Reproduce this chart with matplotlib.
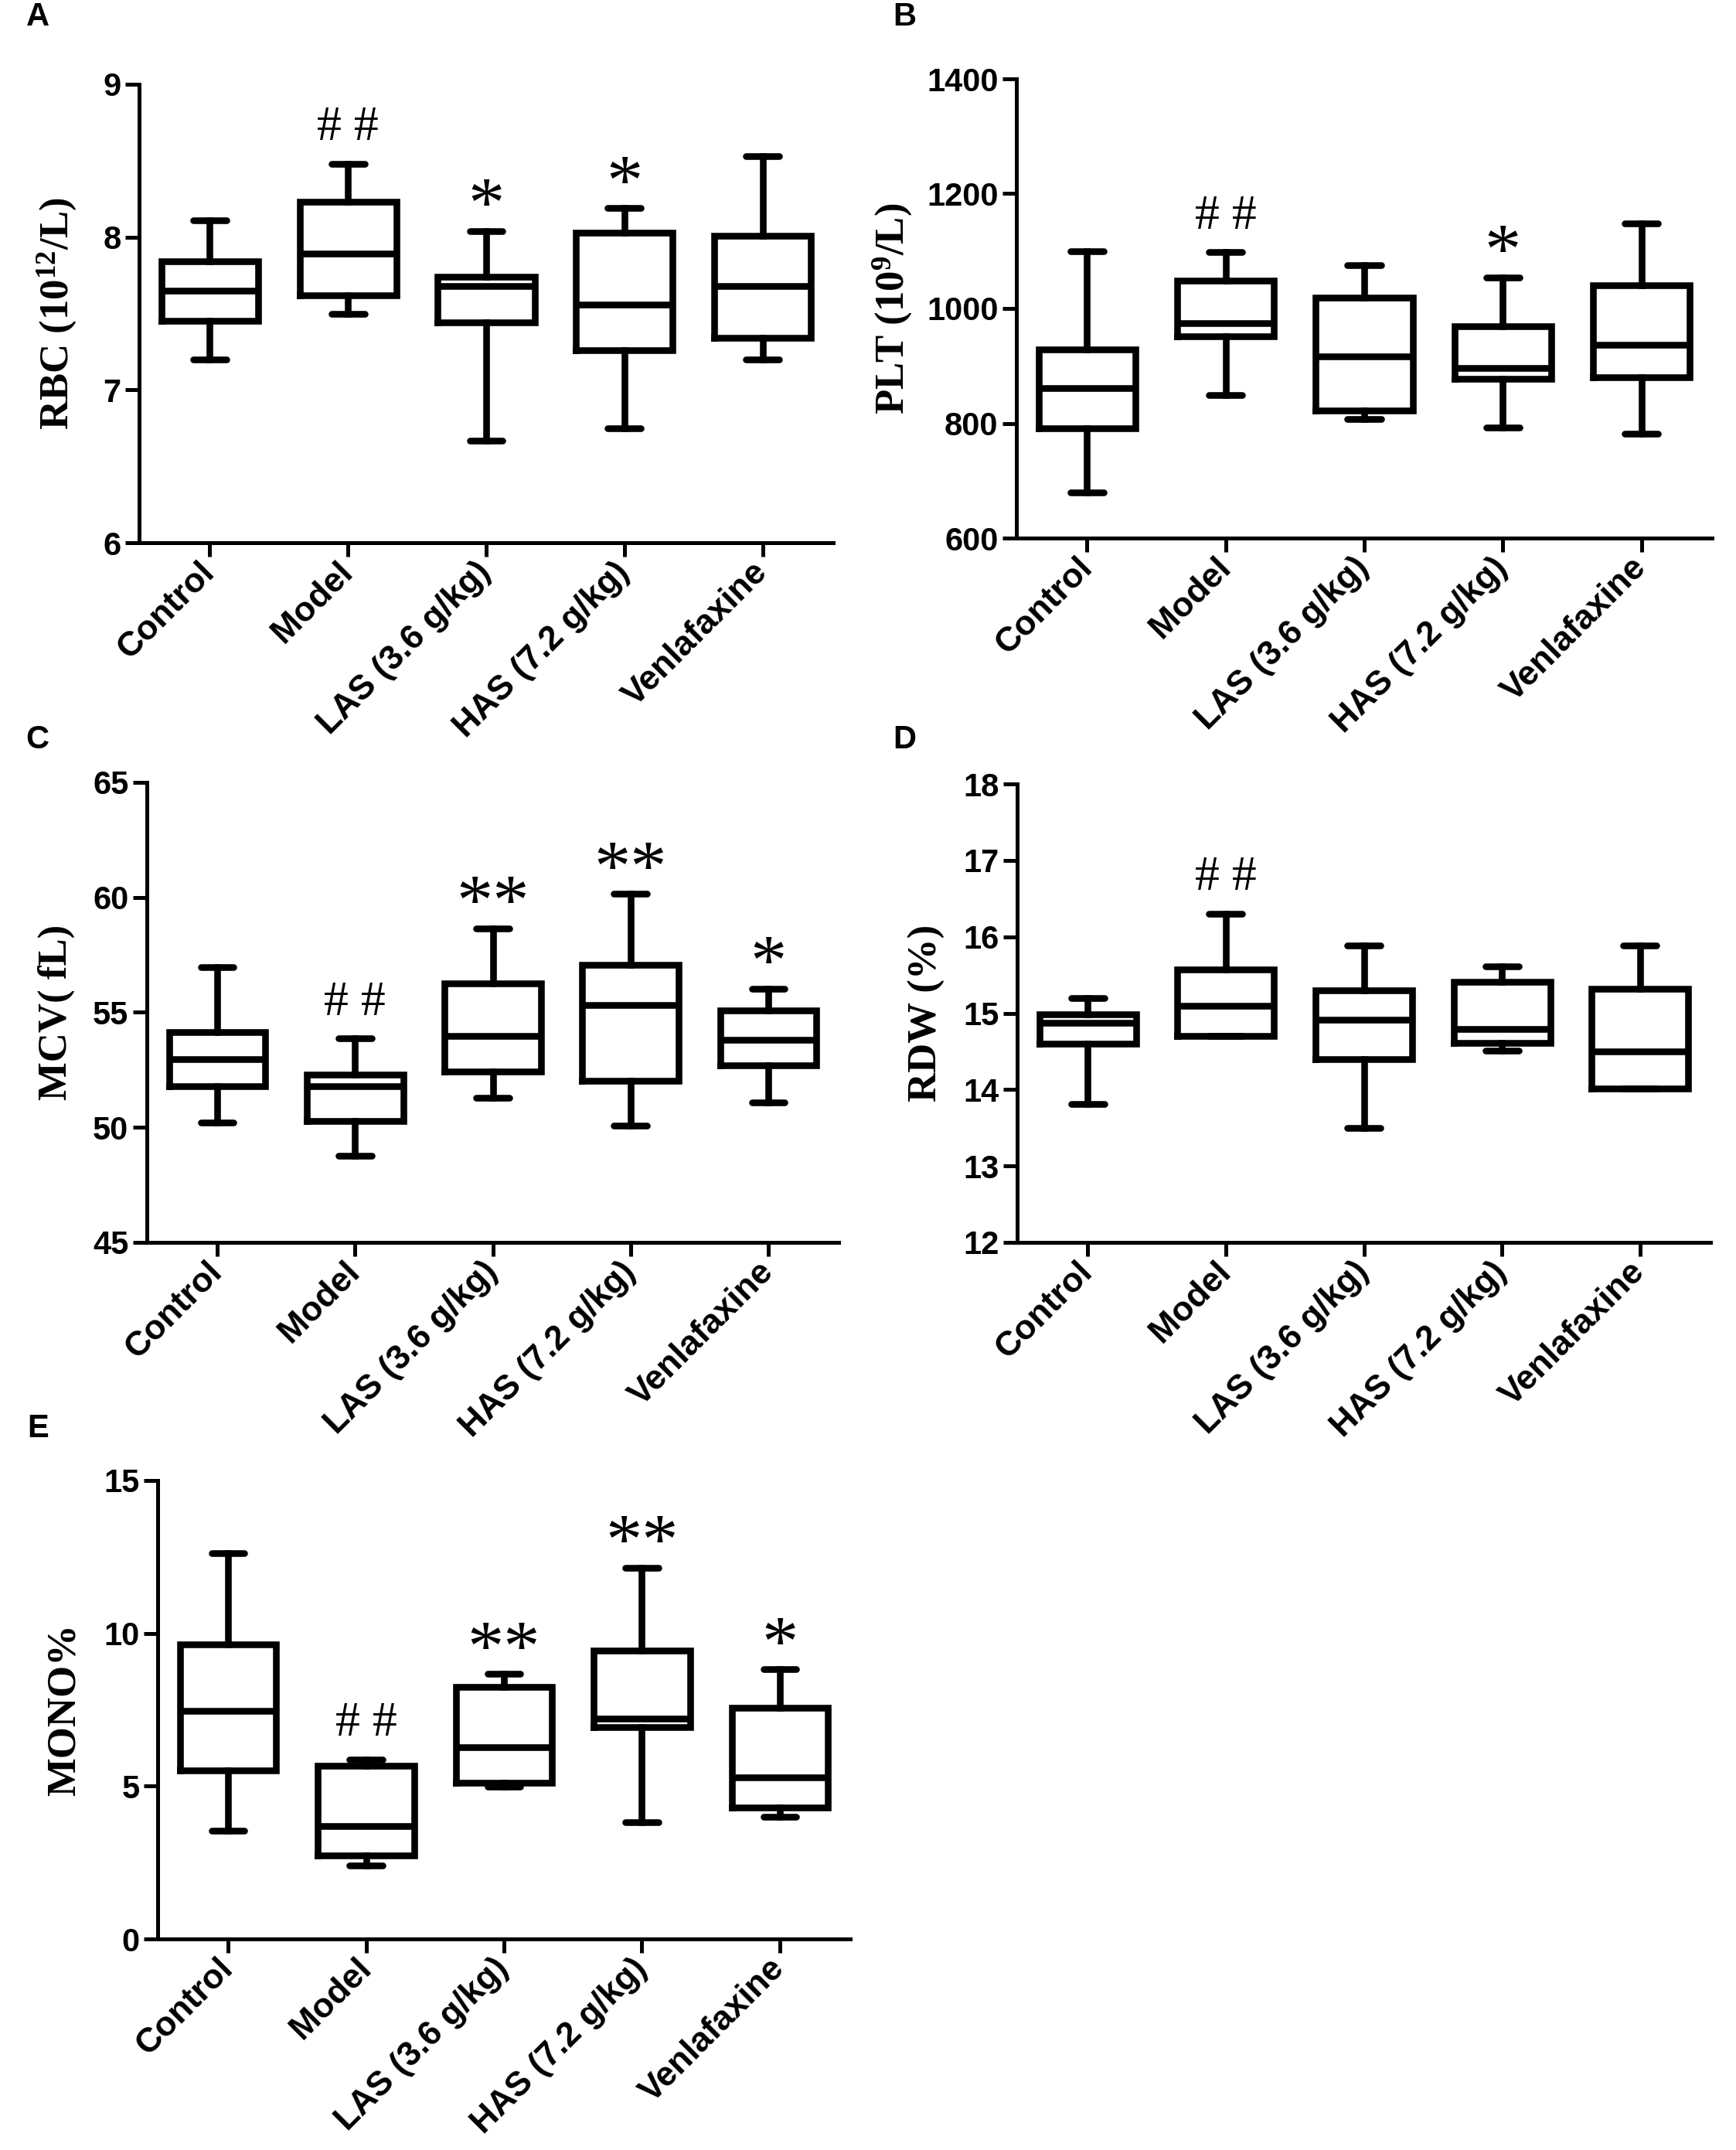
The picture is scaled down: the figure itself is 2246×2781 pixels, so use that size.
import matplotlib.pyplot as plt

plt.rcParams["font.family"] = ["Liberation Sans", "DejaVu Sans"]
plt.rcParams["mathtext.fontset"] = "custom"
plt.rcParams["mathtext.rm"] = "Liberation Serif:bold"
plt.rcParams["mathtext.it"] = "Liberation Serif:bold"
plt.rcParams["mathtext.bf"] = "Liberation Serif:bold"

groups = ["Control", "Model", "LAS (3.6 g/kg)", "HAS (7.2 g/kg)", "Venlafaxine"]

# A - RBC
rbc_min = [7.20, 7.50, 6.67, 6.75, 7.20]
rbc_q1 = [7.45, 7.62, 7.44, 7.26, 7.34]
rbc_med = [7.65, 7.89, 7.68, 7.56, 7.68]
rbc_q3 = [7.84, 8.23, 7.74, 8.03, 8.01]
rbc_max = [8.11, 8.48, 8.04, 8.19, 8.53]
rbc_sig = ["", "# #", "*", "*", ""]

# B - PLT
plt_min = [679, 849, 807, 793, 782]
plt_q1 = [791, 952, 822, 878, 880]
plt_med = [861, 975, 917, 896, 937]
plt_q3 = [929, 1048, 1019, 969, 1041]
plt_max = [1100, 1098, 1076, 1054, 1148]
plt_sig = ["", "# #", "", "*", ""]

# C - MCV
mcv_min = [50.2, 48.75, 51.27, 50.08, 51.07]
mcv_q1 = [51.78, 50.29, 52.42, 52.01, 52.69]
mcv_med = [52.97, 51.78, 53.98, 55.31, 53.80]
mcv_q3 = [54.13, 52.30, 56.27, 57.06, 55.10]
mcv_max = [56.97, 53.86, 58.66, 60.15, 56.04]
mcv_sig = ["", "# #", "**", "**", "*"]

# D - RDW
rdw_min = [13.81, 14.70, 13.50, 14.51, 14.01]
rdw_q1 = [14.60, 14.70, 14.40, 14.61, 14.01]
rdw_med = [14.87, 15.10, 14.91, 14.79, 14.50]
rdw_q3 = [14.98, 15.57, 15.30, 15.41, 15.32]
rdw_max = [15.20, 16.30, 15.89, 15.61, 15.89]
rdw_sig = ["", "# #", "", "", ""]

# E - MONO%
mono_min = [3.53, 2.40, 4.98, 3.82, 3.99]
mono_q1 = [5.51, 2.72, 5.11, 6.93, 4.29]
mono_med = [7.46, 3.70, 6.27, 7.20, 5.28]
mono_q3 = [9.64, 5.66, 8.24, 9.43, 7.57]
mono_max = [12.62, 5.87, 8.67, 12.15, 8.82]
mono_sig = ["", "# #", "**", "**", "*"]

LW = 6.2
SPINE_LW = 3.6


def draw_panel(ax, lo, q1, med, q3, hi, sig, ylim, yticks, ylabel, label_x):
    stats = []
    for i in range(len(groups)):
        stats.append(dict(whislo=lo[i], q1=q1[i], med=med[i], q3=q3[i],
                          whishi=hi[i], label=groups[i]))
    line = dict(color="black", linewidth=LW, solid_joinstyle="miter")
    ax.bxp(stats, positions=range(len(groups)), widths=0.7, capwidths=0.24,
           showfliers=False, manage_ticks=False,
           boxprops=line, medianprops=line, whiskerprops=line,
           capprops=dict(color="black", linewidth=LW, solid_capstyle="round"))

    ax.set_xlim(-0.51, 4.51)
    ax.set_ylim(*ylim)
    ax.set_yticks(yticks)
    ax.set_xticks(range(len(groups)))
    ax.set_xticklabels(groups, rotation=45, ha="right", va="center",
                       rotation_mode="anchor", fontsize=32, fontweight="bold")
    for t in ax.get_yticklabels():
        t.set_fontsize(30)
        t.set_fontweight("bold")
    ax.spines[["top", "right"]].set_visible(False)
    ax.spines[["left", "bottom"]].set_linewidth(SPINE_LW)
    ax.tick_params(axis="y", length=13, width=SPINE_LW, pad=4)
    ax.tick_params(axis="x", length=13, width=SPINE_LW, pad=10)
    ax.set_ylabel(ylabel, fontfamily="Liberation Serif", fontweight="bold",
                  fontsize=38)
    ax.yaxis.set_label_coords(label_x, 0.5)

    for i, s in enumerate(sig):
        if not s:
            continue
        if "#" in s:
            ax.annotate(s, xy=(i, hi[i]), xytext=(0, 22), textcoords="offset points",
                        ha="center", va="baseline", fontsize=46,
                        fontfamily="Liberation Serif")
        else:
            ax.annotate(s, xy=(i, hi[i]), xytext=(0, 4), textcoords="offset points",
                        ha="center", va="baseline", fontsize=68,
                        fontfamily="Liberation Serif")


fig = plt.figure(figsize=(22.46, 27.81), dpi=100)

W, H = 2246, 2781


def axes_px(left, top, right, bottom):
    return fig.add_axes([left / W, 1 - bottom / H, (right - left) / W, (bottom - top) / H])


ax_a = axes_px(180, 109, 1078, 702)
ax_b = axes_px(1315, 102, 2215, 696)
ax_c = axes_px(190, 1012, 1085, 1607)
ax_d = axes_px(1316, 1014, 2213, 1607)
ax_e = axes_px(204, 1915, 1100, 2508)

draw_panel(ax_a, rbc_min, rbc_q1, rbc_med, rbc_q3, rbc_max, rbc_sig,
           (6, 9), [6, 7, 8, 9], r"RBC (10$^{12}$/L)", -0.087)
draw_panel(ax_b, plt_min, plt_q1, plt_med, plt_q3, plt_max, plt_sig,
           (600, 1400), [600, 800, 1000, 1200, 1400], r"PLT (10$^{9}$/L)", -0.147)
draw_panel(ax_c, mcv_min, mcv_q1, mcv_med, mcv_q3, mcv_max, mcv_sig,
           (45, 65), [45, 50, 55, 60, 65], "MCV( fL)", -0.104)
draw_panel(ax_d, rdw_min, rdw_q1, rdw_med, rdw_q3, rdw_max, rdw_sig,
           (12, 18), [12, 13, 14, 15, 16, 17, 18], "RDW (%)", -0.104)
draw_panel(ax_e, mono_min, mono_q1, mono_med, mono_q3, mono_max, mono_sig,
           (0, 15), [0, 5, 10, 15], "MONO%", -0.108)

for letter, x, y in [("A", 49, 22), ("B", 1170, 22), ("C", 48, 957),
                     ("D", 1170, 957), ("E", 49, 1848)]:
    fig.text(x / W, 1 - y / H, letter, fontsize=30, fontweight="bold",
             ha="center", va="center")

fig.savefig("out.png", dpi=100)
